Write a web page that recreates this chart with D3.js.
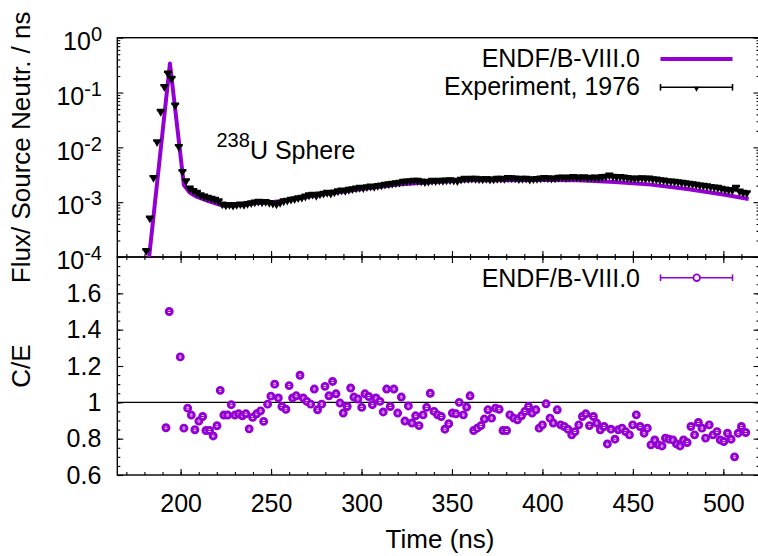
<!DOCTYPE html>
<html>
<head>
<meta charset="utf-8">
<script src="https://cdn.jsdelivr.net/npm/d3@7"></script>
<style>
    body { margin: 0; background: #fff; }
    #chart { width: 758px; height: 556px; }
    text { font-family: "Liberation Sans", Arial, Helvetica, sans-serif; fill: #000; }
</style>
</head>
<body>
<div id="chart"></div>
<script>
// tick labels
const timeTicks = [200, 250, 300, 350, 400, 450, 500];
const fluxTicks = [1e-4, 1e-3, 1e-2, 1e-1, 1];
const fluxTickExp = ["-4", "-3", "-2", "-1", "0"];
const ratioTicks = [0.6, 0.8, 1, 1.2, 1.4, 1.6];

// ENDF/B-VIII.0 calculated flux (line)
const endfTimes = [181.5, 182.6, 194.1, 201.8, 205, 208.8, 216.2, 223.6, 230, 240, 250, 260, 270, 280, 300, 320, 340, 360, 380, 400, 420, 440, 460, 480, 500, 514];
const endfFlux = [5e-5, 1e-4, 0.34, 2.05e-3, 1.5e-3, 1.26e-3, 1.02e-3, 8.6e-4, 8.7e-4, 9.5e-4, 1.0e-3, 1.1e-3, 1.26e-3, 1.41e-3, 1.74e-3, 2.09e-3, 2.34e-3, 2.51e-3, 2.51e-3, 2.54e-3, 2.51e-3, 2.34e-3, 2.09e-3, 1.74e-3, 1.38e-3, 1.14e-3];

// Experiment, 1976 (points)
const expTimes = [181, 183, 185, 187, 189, 191, 193, 195, 197, 199, 201, 203, 205, 207, 209, 211, 213, 215, 217, 219,
    221, 223, 225, 227, 229, 231, 233, 235, 237, 239, 241, 243, 245, 247, 249, 251, 253, 255, 257, 259,
    261, 263, 265, 267, 269, 271, 273, 275, 277, 279, 281, 283, 285, 287, 289, 291, 293, 295, 297, 299,
    301, 303, 305, 307, 309, 311, 313, 315, 317, 319, 321, 323, 325, 327, 329, 331, 333, 335, 337, 339,
    341, 343, 345, 347, 349, 351, 353, 355, 357, 359, 361, 363, 365, 367, 369, 371, 373, 375, 377, 379,
    381, 383, 385, 387, 389, 391, 393, 395, 397, 399, 401, 403, 405, 407, 409, 411, 413, 415, 417, 419,
    421, 423, 425, 427, 429, 431, 433, 435, 437, 439, 441, 443, 445, 447, 449, 451, 453, 455, 457, 459,
    461, 463, 465, 467, 469, 471, 473, 475, 477, 479, 481, 483, 485, 487, 489, 491, 493, 495, 497, 499,
    501, 503, 505, 507, 509, 511, 513];
const expFlux = [1.3e-4, 5.1e-4, 2.8e-3, 1.26e-2, 4.5e-2, 0.128, 0.224, 0.18, 0.059, 0.0103, 3.6e-3, 2.45e-3, 1.79e-3, 1.62e-3, 1.5e-3, 1.35e-3, 1.28e-3, 1.22e-3, 1.17e-3, 1.12e-3,
    1.05e-3, 9.2e-4, 8.8e-4, 9.0e-4, 8.7e-4, 9.0e-4, 9.2e-4, 9.0e-4, 9.4e-4, 9.7e-4, 1.0e-3, 1.03e-3, 1.0e-3, 1.02e-3, 9.8e-4, 9.5e-4, 9.2e-4, 9.8e-4, 1.05e-3, 1.08e-3,
    1.12e-3, 1.15e-3, 1.2e-3, 1.22e-3, 1.28e-3, 1.35e-3, 1.38e-3, 1.32e-3, 1.4e-3, 1.45e-3, 1.5e-3, 1.45e-3, 1.52e-3, 1.6e-3, 1.65e-3, 1.62e-3, 1.7e-3, 1.75e-3, 1.8e-3, 1.85e-3,
    1.82e-3, 1.9e-3, 1.95e-3, 1.92e-3, 2.0e-3, 2.05e-3, 2.1e-3, 2.15e-3, 2.2e-3, 2.25e-3, 2.3e-3, 2.38e-3, 2.42e-3, 2.45e-3, 2.5e-3, 2.48e-3, 2.42e-3, 2.35e-3, 2.4e-3, 2.48e-3,
    2.45e-3, 2.5e-3, 2.48e-3, 2.52e-3, 2.55e-3, 2.5e-3, 2.45e-3, 2.6e-3, 2.7e-3, 2.68e-3, 2.72e-3, 2.7e-3, 2.65e-3, 2.62e-3, 2.68e-3, 2.6e-3, 2.62e-3, 2.7e-3, 2.72e-3, 2.68e-3,
    2.8e-3, 2.78e-3, 2.75e-3, 2.65e-3, 2.7e-3, 2.72e-3, 2.6e-3, 2.65e-3, 2.68e-3, 2.75e-3, 2.8e-3, 2.78e-3, 2.72e-3, 2.75e-3, 2.82e-3, 2.85e-3, 2.8e-3, 2.85e-3, 2.9e-3, 2.85e-3,
    2.82e-3, 2.88e-3, 2.8e-3, 2.82e-3, 2.85e-3, 2.8e-3, 2.9e-3, 2.95e-3, 3.1e-3, 2.95e-3, 2.9e-3, 2.92e-3, 2.85e-3, 2.8e-3, 2.75e-3, 2.72e-3, 2.75e-3, 2.78e-3, 2.7e-3, 2.75e-3,
    2.65e-3, 2.62e-3, 2.55e-3, 2.52e-3, 2.45e-3, 2.42e-3, 2.38e-3, 2.35e-3, 2.28e-3, 2.25e-3, 2.2e-3, 2.15e-3, 2.1e-3, 2.05e-3, 2.02e-3, 1.98e-3, 1.92e-3, 1.88e-3, 1.85e-3, 1.78e-3,
    1.72e-3, 1.68e-3, 1.65e-3, 1.85e-3, 1.58e-3, 1.5e-3, 1.48e-3];

// C/E ratio (ENDF/B-VIII.0 over experiment)
const ratioTimes = [191.9, 193.7, 199.8, 201.8, 203.9, 205.9, 207.9, 210.1, 212.2, 214, 216, 218, 220.1, 221.9, 223.9, 226, 228, 230, 232.1, 234.1,
    236.1, 237.9, 239.8, 242, 244.2, 245.9, 248.1, 249.9, 252, 254, 256, 258.2, 260, 261.9, 263.9, 266, 267.8, 269.8, 271.9, 273.9,
    275.7, 278, 279.8, 282, 284, 285.9, 288.1, 289.9, 292.1, 294, 295.8, 298, 300.1, 301.9, 304, 306, 308, 310.2, 312, 313.9,
    315.9, 317.9, 320, 322, 324, 325.9, 327.9, 329.9, 331.8, 334, 336, 338, 340.1, 342.1, 344.1, 346.1, 348.2, 350.2, 352.2, 354,
    356.3, 358.1, 360, 362, 364, 366, 367.9, 369.9, 371.9, 374.1, 376.1, 378.2, 380.2, 382, 384.2, 386.2, 388.4, 390.3, 392.3, 394.3,
    396.4, 398.2, 400, 402, 404.2, 406, 408.2, 410.1, 412.1, 414.1, 416.2, 418, 420.1, 422.1, 424, 426, 428.2, 430, 432, 434.1,
    435.9, 437.9, 440.1, 442, 444, 446, 448.1, 449.9, 451.9, 454, 456.2, 458, 460, 462.1, 464.1, 466.1, 468, 470, 472.1, 474.1,
    476.1, 478, 480, 482.1, 484.1, 486.2, 488.2, 490.2, 492.2, 494.3, 496.5, 498.3, 500.3, 502.3, 504.3, 506.2, 508.2, 510, 512.4];
const ratioValues = [0.86, 1.5, 1.25, 0.858, 0.968, 0.93, 0.849, 0.897, 0.922, 0.845, 0.845, 0.815, 0.871, 1.066, 0.93, 0.93, 0.987, 0.93, 0.937, 0.926,
    0.937, 0.854, 0.917, 0.937, 0.953, 0.895, 0.99, 1.034, 1.1, 1.024, 0.977, 0.962, 1.092, 1.024, 1.036, 1.149, 1.024, 1.005, 0.99, 1.073,
    0.959, 0.99, 1.088, 1.036, 1.115, 1.047, 0.996, 0.941, 0.977, 1.079, 1.029, 1.018, 0.972, 1.047, 1.032, 0.987, 1.024, 1.005, 0.947, 1.073,
    0.977, 1.073, 0.941, 1.029, 0.897, 0.98, 0.886, 0.926, 0.872, 0.931, 0.972, 1.05, 0.95, 0.931, 0.922, 0.852, 0.882, 0.941, 0.937, 1.0,
    0.931, 0.974, 1.036, 0.845, 0.858, 0.872, 0.908, 0.959, 0.913, 0.968, 0.962, 0.845, 0.845, 0.931, 0.913, 0.904, 0.926, 0.95, 0.977, 0.941,
    0.959, 0.858, 0.876, 0.992, 0.913, 0.886, 0.959, 0.876, 0.867, 0.852, 0.821, 0.839, 0.876, 0.922, 0.937, 0.872, 0.922, 0.886, 0.849, 0.867,
    0.771, 0.852, 0.797, 0.849, 0.858, 0.839, 0.821, 0.876, 0.931, 0.867, 0.83, 0.858, 0.766, 0.793, 0.766, 0.76, 0.803, 0.797, 0.793, 0.771,
    0.76, 0.793, 0.779, 0.867, 0.821, 0.889, 0.858, 0.803, 0.876, 0.821, 0.839, 0.793, 0.784, 0.83, 0.797, 0.7, 0.83, 0.867, 0.834];

class TimeSpectrumChart {
    constructor(parentElement) {
        this.parentElement = parentElement
        this.expData = expTimes.map((t, i) => ({t: t, v: expFlux[i]}))
        this.endfData = endfTimes.map((t, i) => ({t: t, v: endfFlux[i]}))
        this.ratioData = ratioTimes.map((t, i) => ({t: t, v: ratioValues[i]}))
        this.purple = "#9400d3"

        this.initVis()
    }

    initVis() {
        let vis = this

        vis.width = 758;
        vis.height = 556;
        vis.left = 117.3;
        vis.right = 759.5;
        vis.topY = 37.7;
        vis.midY = 257;
        vis.bottomY = 475;

        vis.svg = d3.select("#" + vis.parentElement).append("svg")
            .attr("width", vis.width)
            .attr("height", vis.height);

        // Scales
        vis.x = d3.scaleLinear().domain([165, 520]).range([vis.left, vis.right]);
        vis.yFlux = d3.scaleLog().domain([1e-4, 1]).range([vis.midY, vis.topY]);
        vis.yRatio = d3.scaleLinear().domain([0.6, 1.8]).range([vis.bottomY, vis.midY]);

        let timeMinor = d3.range(170, 521, 10);
        let fluxMinor = [];
        [-4, -3, -2, -1].forEach(e => d3.range(2, 10).forEach(k => fluxMinor.push(k * Math.pow(10, e))));
        let ratioMinor = d3.range(0.6, 1.8001, 0.05);

        // clip paths
        let defs = vis.svg.append("defs");
        defs.append("clipPath").attr("id", "clip-top").append("rect")
            .attr("x", vis.left).attr("y", vis.topY)
            .attr("width", vis.right - vis.left).attr("height", vis.midY - vis.topY);
        defs.append("clipPath").attr("id", "clip-bottom").append("rect")
            .attr("x", vis.left).attr("y", vis.midY)
            .attr("width", vis.right - vis.left).attr("height", vis.bottomY - vis.midY);

        // Axes (ticks point inward)
        let addAxis = function(axis, tx, ty) {
            let g = vis.svg.append("g")
                .attr("class", "axis")
                .attr("transform", `translate(${tx}, ${ty})`)
                .call(axis);
            g.select(".domain").remove();
            g.selectAll(".tick line").attr("stroke", "#000").attr("stroke-width", 1.1);
            return g;
        }

        // top panel
        addAxis(d3.axisBottom(vis.x).tickValues(timeTicks).tickSize(-6).tickFormat(""), 0, vis.midY);
        addAxis(d3.axisBottom(vis.x).tickValues(timeMinor).tickSize(-3).tickFormat(""), 0, vis.midY);
        addAxis(d3.axisLeft(vis.yFlux).tickValues(fluxTicks).tickSize(-6).tickFormat(""), vis.left, 0);
        addAxis(d3.axisLeft(vis.yFlux).tickValues(fluxMinor).tickSize(-3).tickFormat(""), vis.left, 0);
        addAxis(d3.axisRight(vis.yFlux).tickValues(fluxTicks).tickSize(-6).tickFormat(""), vis.right, 0);
        addAxis(d3.axisRight(vis.yFlux).tickValues(fluxMinor).tickSize(-3).tickFormat(""), vis.right, 0);

        // bottom panel
        addAxis(d3.axisTop(vis.x).tickValues(timeTicks).tickSize(-6).tickFormat(""), 0, vis.midY);
        addAxis(d3.axisTop(vis.x).tickValues(timeMinor).tickSize(-3).tickFormat(""), 0, vis.midY);
        addAxis(d3.axisBottom(vis.x).tickValues(timeTicks).tickSize(-6).tickPadding(19).tickFormat(d => d), 0, vis.bottomY);
        addAxis(d3.axisBottom(vis.x).tickValues(timeMinor).tickSize(-3).tickFormat(""), 0, vis.bottomY);
        addAxis(d3.axisLeft(vis.yRatio).tickValues(ratioTicks).tickSize(-6).tickPadding(16).tickFormat(d => d), vis.left, 0);
        addAxis(d3.axisLeft(vis.yRatio).tickValues(ratioMinor).tickSize(-3).tickFormat(""), vis.left, 0);
        addAxis(d3.axisRight(vis.yRatio).tickValues(ratioTicks).tickSize(-6).tickFormat(""), vis.right, 0);
        addAxis(d3.axisRight(vis.yRatio).tickValues(ratioMinor).tickSize(-3).tickFormat(""), vis.right, 0);

        vis.svg.selectAll(".axis text")
            .attr("font-family", "Liberation Sans, Arial, sans-serif")
            .attr("font-size", 25)
            .attr("fill", "#000");

        // log tick labels with superscripts
        let logLabels = vis.svg.append("g")
            .selectAll("text")
            .data(fluxTicks)
            .enter().append("text")
            .attr("x", 102)
            .attr("y", d => vis.yFlux(d) + 12.3)
            .attr("text-anchor", "end")
            .attr("font-size", 25);
        logLabels.append("tspan").text("10");
        logLabels.append("tspan")
            .attr("dy", -9)
            .attr("font-size", 20)
            .text((d, i) => fluxTickExp[i]);

        // panel frames
        vis.svg.append("rect")
            .attr("x", vis.left).attr("y", vis.topY)
            .attr("width", vis.right - vis.left).attr("height", vis.midY - vis.topY)
            .attr("fill", "none").attr("stroke", "#000").attr("stroke-width", 1.4);
        vis.svg.append("rect")
            .attr("x", vis.left).attr("y", vis.midY)
            .attr("width", vis.right - vis.left).attr("height", vis.bottomY - vis.midY)
            .attr("fill", "none").attr("stroke", "#000").attr("stroke-width", 1.4);

        // reference line at C/E = 1
        vis.svg.append("line")
            .attr("x1", vis.left).attr("x2", vis.right)
            .attr("y1", vis.yRatio(1)).attr("y2", vis.yRatio(1))
            .attr("stroke", "#000").attr("stroke-width", 1.1);

        // axis titles
        vis.svg.append("text")
            .attr("x", 440).attr("y", 548)
            .attr("text-anchor", "middle")
            .attr("font-size", 26)
            .text("Time (ns)");
        vis.svg.append("text")
            .attr("transform", `translate(30, ${(vis.topY + vis.midY) / 2}) rotate(-90)`)
            .attr("text-anchor", "middle")
            .attr("font-size", 26)
            .text("Flux/ Source Neutr. / ns");
        vis.svg.append("text")
            .attr("transform", `translate(30, ${(vis.midY + vis.bottomY) / 2}) rotate(-90)`)
            .attr("text-anchor", "middle")
            .attr("font-size", 26)
            .text("C/E");

        // annotation
        let note = vis.svg.append("text")
            .attr("x", 216.5).attr("y", 159)
            .attr("font-size", 25);
        note.append("tspan").attr("dy", -12).attr("font-size", 20).text("238");
        note.append("tspan").attr("dy", 12).text("U Sphere");

        vis.updateVis();
        vis.drawLegends();
    }

    updateVis() {
        let vis = this;

        // ENDF line
        let line = d3.line()
            .x(d => vis.x(d.t))
            .y(d => vis.yFlux(d.v));
        vis.svg.append("g")
            .attr("clip-path", "url(#clip-top)")
            .append("path")
            .datum(vis.endfData)
            .attr("d", line)
            .attr("fill", "none")
            .attr("stroke", vis.purple)
            .attr("stroke-width", 4)
            .attr("stroke-linejoin", "round");

        // experiment points with error bars
        let tri = d3.symbol().type(d3.symbolTriangle).size(22);
        let exp = vis.svg.append("g")
            .attr("clip-path", "url(#clip-top)")
            .selectAll("g")
            .data(vis.expData)
            .enter().append("g")
            .attr("transform", d => `translate(${vis.x(d.t)}, ${vis.yFlux(d.v)})`);
        exp.append("line")
            .attr("x1", -4).attr("x2", 4)
            .attr("y1", -1.5).attr("y2", -1.5)
            .attr("stroke", "#000").attr("stroke-width", 2.4);
        exp.append("path")
            .attr("d", tri)
            .attr("transform", "translate(0, 1) rotate(180)")
            .attr("fill", "#000");

        // C/E points
        let ratio = vis.svg.append("g")
            .attr("clip-path", "url(#clip-bottom)")
            .selectAll("g")
            .data(vis.ratioData)
            .enter().append("g")
            .attr("transform", d => `translate(${vis.x(d.t)}, ${vis.yRatio(d.v)})`);
        ratio.append("circle")
            .attr("r", 3.0)
            .attr("fill", "#fff")
            .attr("stroke", vis.purple)
            .attr("stroke-width", 2.9);
        ratio.append("line")
            .attr("x1", -1.8).attr("x2", 1.8)
            .attr("stroke", vis.purple).attr("stroke-width", 1);
    }

    drawLegends() {
        let vis = this;
        let x0 = 660.5, x1 = 732.5;

        // top legend
        vis.svg.append("text")
            .attr("x", 640).attr("y", 67)
            .attr("text-anchor", "end")
            .attr("font-size", 25)
            .text("ENDF/B-VIII.0");
        vis.svg.append("line")
            .attr("x1", x0).attr("x2", x1)
            .attr("y1", 59).attr("y2", 59)
            .attr("stroke", vis.purple).attr("stroke-width", 4);

        vis.svg.append("text")
            .attr("x", 640).attr("y", 94.5)
            .attr("text-anchor", "end")
            .attr("font-size", 25)
            .text("Experiment, 1976");
        let expKey = vis.svg.append("g").attr("stroke", "#000").attr("stroke-width", 1.6);
        expKey.append("line").attr("x1", x0).attr("x2", x1).attr("y1", 87.3).attr("y2", 87.3);
        expKey.append("line").attr("x1", x0).attr("x2", x0).attr("y1", 84).attr("y2", 90.6);
        expKey.append("line").attr("x1", x1).attr("x2", x1).attr("y1", 84).attr("y2", 90.6);
        vis.svg.append("path")
            .attr("d", d3.symbol().type(d3.symbolTriangle).size(14))
            .attr("transform", `translate(${(x0 + x1) / 2}, 88.5) rotate(180)`)
            .attr("fill", "#000");

        // bottom legend
        vis.svg.append("text")
            .attr("x", 640).attr("y", 286.5)
            .attr("text-anchor", "end")
            .attr("font-size", 25)
            .text("ENDF/B-VIII.0");
        let ratioKey = vis.svg.append("g").attr("stroke", vis.purple).attr("stroke-width", 1.6);
        ratioKey.append("line").attr("x1", x0).attr("x2", x1).attr("y1", 277.7).attr("y2", 277.7);
        ratioKey.append("line").attr("x1", x0).attr("x2", x0).attr("y1", 274.4).attr("y2", 281);
        ratioKey.append("line").attr("x1", x1).attr("x2", x1).attr("y1", 274.4).attr("y2", 281);
        vis.svg.append("circle")
            .attr("cx", 696.7).attr("cy", 277.7).attr("r", 3.3)
            .attr("fill", "#fff").attr("stroke", vis.purple).attr("stroke-width", 1.8);
    }
}

new TimeSpectrumChart("chart");
</script>
</body>
</html>
